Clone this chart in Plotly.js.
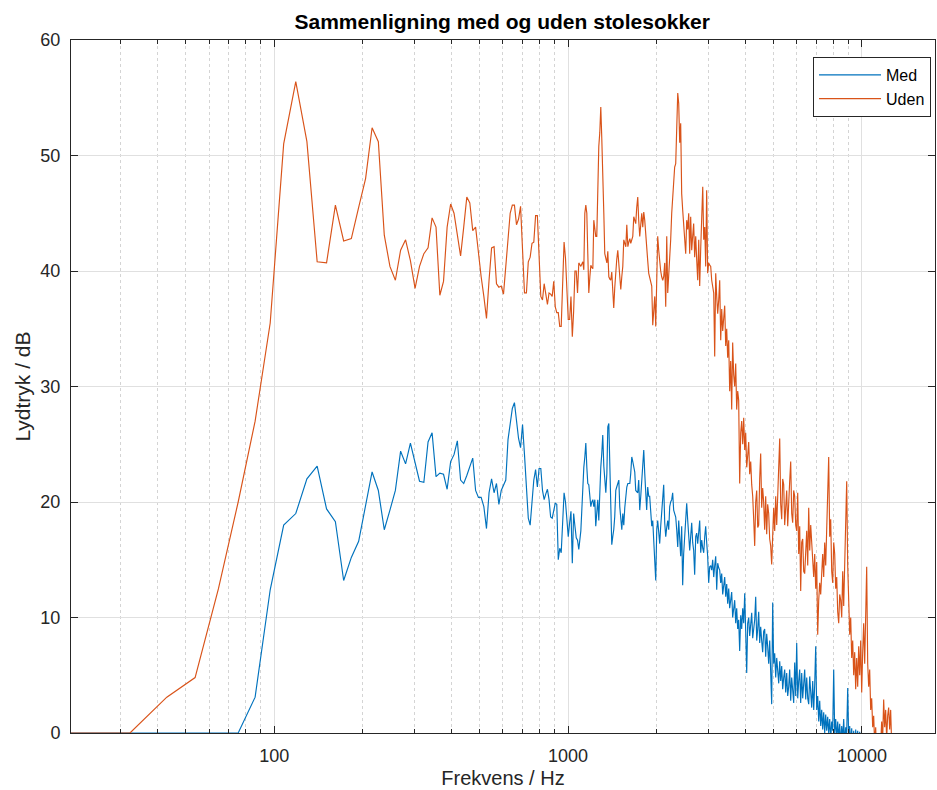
<!DOCTYPE html>
<html>
<head>
<meta charset="utf-8">
<script src="https://cdn.plot.ly/plotly-3.0.1.min.js"></script>
<style>html,body{margin:0;padding:0;background:#fff;}#chart{width:937px;height:790px;}</style>
</head>
<body>
<div id="chart"></div>
<script>
// FFT bins (Hz), low-frequency part
var freqLow = [10.8,21.5,32.3,43.1,53.8,64.6,75.4,86.1,96.9,107.7,
118.4,129.2,140.0,150.7,161.5,172.3,183.0,193.8,204.6,215.3,
226.1,236.9,247.6,258.4,269.2,279.9,290.7,301.5,312.2,323.0,
333.8,344.5,355.3,366.1,376.8,387.6,398.4,409.1,419.9,430.7,
441.4,452.2,463.0,473.7,484.5,495.3,506.0,516.8,527.6,538.3,
549.1,559.9,570.6,581.4,592.2,602.9,613.7,624.5,635.2,646.0,
656.8,667.5,678.3,689.1,699.8,710.6,721.4,732.1,742.9,753.7,
764.4,775.2,786.0,796.7,807.5,818.3,829.0,839.8,850.6,861.3,
872.1,882.9,893.6,904.4,915.2,925.9,936.7,947.5,958.2,969.0,
979.8,990.5,1001.3,1012.1,1022.8,1033.6,1044.4,1055.1,1065.9,1076.7,1087.4];

var medLow = [0,0,0,0,0,0,0,3.1,12.4,18.0,
19.0,22.0,23.1,19.4,18.3,13.2,15.2,16.6,19.8,22.6,
21.0,17.6,19.3,21.0,24.4,23.3,25.1,23.5,21.8,21.7,
25.2,26.0,22.2,22.5,22.4,21.1,23.5,24.1,25.3,21.9,
21.6,22.3,23.1,23.8,21.0,20.4,20.4,19.6,17.7,20.8,
22.0,20.8,21.6,19.8,21.0,21.5,21.9,25.4,26.8,28.1,
28.6,27.1,25.5,24.7,26.7,24.1,21.0,18.6,18.0,19.9,
21.9,22.8,21.3,22.9,22.9,21.0,20.2,20.7,21.1,20.2,
18.7,18.6,19.3,19.9,19.8,15.0,16.0,15.6,18.2,20.8,
20.0,18.4,17.0,18.2,19.2,14.7,19.0,17.9,16.9,16.7,15.9];

var udenLow = [0,0,0,3.1,4.8,12.5,20.0,27.0,35.5,51.0,
56.4,51.2,40.8,40.7,45.7,42.6,42.8,45.5,48.0,52.4,
51.2,43.1,40.4,39.2,41.8,42.7,40.9,38.5,40.4,41.5,
42.0,44.6,43.8,37.9,39.1,43.8,45.8,45.0,43.1,41.3,
43.8,46.4,45.9,43.5,43.8,41.5,39.5,37.8,35.9,39.2,
42.0,42.1,38.9,38.6,38.7,38.0,40.4,43.0,45.0,45.7,
45.7,44.0,44.5,45.6,41.8,38.1,38.1,40.8,41.2,42.4,
42.5,44.8,44.8,41.2,37.8,37.5,38.9,38.0,37.1,38.1,
38.0,37.8,39.1,36.9,36.4,36.4,35.2,35.2,38.4,42.5,
41.1,38.5,35.8,35.8,37.8,34.3,36.5,40.0,40.0,38.1,40.7];

// dense high-frequency part (Hz)
var freqHigh = [1105,1114,1122,1131,1140, 1149,1158,1167,1176,1186,
1195,1204,1214,1223,1233, 1242,1252,1262,1272,1282,
1292,1302,1312,1323,1333, 1344,1355,1365,1376,1387,
1397,1408,1419,1430,1441, 1453,1464,1476,1488,1499,
1511,1523,1535,1547,1559, 1572,1584,1597,1609,1622,
1634,1647,1660,1673,1686, 1699,1712,1726,1739,1753,
1767,1781,1795,1809,1823, 1837,1851,1866,1881,1895,
1911,1926,1941,1956,1972, 1987,2003,2018,2034,2050,
2066,2082,2099,2115,2132, 2149,2166,2183,2200,2217,
2234,2252,2269,2287,2305, 2324,2342,2361,2379,2398,
2416,2435,2454,2473,2493, 2513,2533,2553,2573,2593,
2613,2634,2654,2675,2696, 2718,2739,2761,2783,2804,
2827,2849,2872,2894,2917, 2939,2962,2985,3009,3033,
3057,3081,3105,3130,3154, 3179,3204,3229,3255,3280,
3306,3332,3358,3385,3411, 3438,3465,3492,3520,3547,
3575,3603,3631,3660,3689, 3718,3747,3777,3806,3836,
3867,3897,3928,3959,3990, 4021,4053,4084,4117,4149,
4182,4215,4248,4281,4315, 4349,4383,4418,4452,4487,
4522,4558,4593,4629,4666, 4703,4740,4777,4815,4853,
4891,4929,4968,5007,5047, 5087,5127,5167,5208,5249,
5290,5332,5373,5416,5458, 5501,5544,5588,5632,5676,
5721,5766,5811,5857,5903, 5950,5997,6044,6091,6139,
6187,6236,6285,6334,6384, 6435,6486,6537,6588,6640,
6692,6745,6798,6851,6905, 6959,7014,7069,7125,7181,
7237,7294,7351,7409,7467, 7526,7585,7645,7705,7766,
7827,7889,7951,8013,8076, 8140,8204,8268,8333,8399,
8465,8532,8599,8666,8734, 8803,8872,8942,9012,9083,
9155,9227,9299,9372,9446, 9520,9595,9670,9746,9823,
9900,9978,10056,10135,10215, 10296,10377,10458,10540,10623,
10706,10790,10875,10961,11047, 11134,11221,11309,11398,11488,
11578,11669,11761,11853,11946, 12040,12135,12230,12326,12423,
12521,12619,12718,12818,12919, 13021];

var medHigh = [17.5,19.3,22.2,23.0,23.9, 25.1,23.0,21.6,21.5,20.5,
19.6,20.0,20.2,19.6,20.2, 17.9,19.5,20.2,18.4,21.3,
23.0,24.2,25.8,23.1,22.0, 20.8,22.5,26.5,26.8,22.8,
18.4,16.3,17.0,17.6,18.7, 21.0,21.3,21.6,21.9,19.6,
18.5,17.6,19.0,18.0,19.5, 20.5,21.3,21.6,21.6,21.6,
22.5,23.9,23.5,23.1,22.6, 21.0,20.9,20.8,21.9,19.3,
20.5,21.9,22.8,24.5,22.5, 21.3,19.3,21.3,20.5,20.5,
19.3,17.9,18.4,17.0,15.6, 13.2,17.6,18.4,17.4,16.4,
17.9,19.3,20.5,21.5,18.2, 17.0,17.8,18.4,17.6,19.6,
20.0,20.2,20.8,19.3,19.0, 18.7,17.6,16.1,18.4,17.0,
15.3,17.9,12.8,15.5,17.0, 18.4,19.9,18.4,17.0,15.8,
17.0,18.2,16.5,15.8,13.7, 17.0,17.3,16.4,17.4,18.4,
15.6,16.7,16.0,15.6,17.0, 17.9,16.5,15.3,13.0,14.4,
14.5,14.1,15.0,13.5,14.5, 15.3,12.4,14.7,14.3,14.1,
13.0,13.8,12.0,12.6,13.5, 11.8,12.9,11.2,12.5,10.8,
11.5,12.2,10.0,10.9,11.5, 9.5,10.8,9.0,9.8,7.1,
10.2,9.0,10.8,9.5,12.1, 8.8,5.2,9.5,10.0,8.4,
9.2,10.4,8.2,8.8,9.8, 11.8,8.0,9.0,10.5,7.8,
9.2,8.0,7.0,8.8,9.0, 6.6,8.6,7.5,6.0,8.0,
5.5,2.5,11.3,6.0,6.9, 4.8,6.5,5.5,4.3,6.2,
4.5,5.8,3.8,4.8,5.5, 3.5,5.2,3.2,4.0,5.5,
2.8,4.8,3.8,2.6,6.1, 3.2,7.8,3.0,4.5,5.5,
2.6,5.2,3.0,4.2,5.5, 2.9,4.8,3.0,2.5,4.9,
3.5,2.2,4.5,2.0,4.2, 7.5,2.0,3.2,1.0,2.8,
0.6,2.0,0.3,1.8,0.0, 1.6,0.2,1.4,0.0,1.2,
-0.5,1.0,0.2,5.5,0.0, 1.2,-0.5,1.0,-0.5,0.8,
-1.0,0.6,-0.5,1.2,-1.0, 0.5,0.0,3.9,-0.5,0.6,
-1.0,0.4,-1.5,0.2,-2.0, 0.3,-1.0,0.2,-1.5,0.1,
-2.0,-3.0,-3.0,-3.0,-3.0, -3.0,-3.0,-3.0,-3.0,-3.0,
-3.0,-3.0,-3.0,-3.0,-3.0, -3.0,-3.0,-3.0,-3.0,-3.0,
-3.0,-3.0,-3.0,-3.0,-3.0, -3.0,-3.0,-3.0,-3.0,-3.0,
-3.0,-3.0,-3.0,-3.0,-3.0, -3.0];

var udenHigh = [40.4,40.6,40.8,40.1,45.0, 45.7,45.0,41.5,38.1,39.5,
40.5,40.3,40.2,44.4,43.5, 43.0,43.0,47.5,50.8,52.0,
54.2,51.5,49.0,45.0,41.5, 41.0,40.7,41.7,39.5,39.3,
39.2,39.9,38.5,36.8,38.5, 40.4,41.0,41.8,40.8,40.1,
38.4,39.5,40.4,42.7,42.4, 42.1,44.0,42.1,42.5,42.8,
42.4,42.7,43.0,44.7,44.4, 44.1,45.5,46.4,44.4,43.0,
44.0,45.0,43.8,45.1,44.4, 43.0,42.4,40.9,39.8,39.5,
39.0,38.7,35.3,36.5,37.8, 35.2,39.0,43.0,41.8,40.4,
40.0,39.5,39.2,39.5,40.7, 36.9,43.0,38.1,39.5,40.4,
42.7,45.0,46.7,47.9,49.0, 49.3,52.4,55.4,54.5,51.1,
52.8,46.7,45.3,43.8,42.5, 41.5,44.4,43.6,45.0,41.5,
44.7,41.8,43.0,44.1,41.2, 43.0,41.0,39.2,42.7,38.7,
42.0,45.9,47.3,42.7,43.8, 40.4,47.0,39.8,40.7,40.5,
40.4,39.2,38.5,38.1,32.6, 39.8,37.8,36.3,37.5,39.2,
34.0,36.7,34.8,35.8,37.0, 33.5,35.0,32.5,34.0,29.6,
32.2,28.0,33.8,31.0,30.0, 32.0,28.0,29.6,28.8,21.6,
26.0,27.0,25.0,27.3,24.5, 26.0,23.0,24.0,25.2,22.4,
23.5,21.5,20.5,18.5,16.2, 20.0,21.0,17.8,18.0,22.0,
24.2,19.5,21.2,20.0,17.6, 20.5,17.2,19.8,19.0,16.8,
16.2,14.6,18.5,19.5,17.5, 20.5,18.0,21.0,22.4,25.5,
19.8,18.5,22.0,21.5,18.0, 19.5,21.0,17.9,20.8,21.8,
23.5,19.0,18.2,21.0,20.5, 18.0,17.5,20.8,15.5,17.9,
12.3,16.5,16.8,14.0,13.8, 16.0,17.5,14.5,19.5,15.8,
18.0,16.5,14.5,13.5,15.5, 12.5,14.8,8.5,11.5,13.0,
12.0,14.0,15.5,13.5,16.5, 14.5,18.0,20.5,23.9,17.0,
18.5,14.0,13.0,16.5,15.5, 12.5,13.5,10.5,9.5,12.0,
11.5,10.0,14.0,11.0,15.0, 18.5,21.8,14.5,11.0,8.5,
10.0,6.5,8.0,5.0,7.0, 3.8,6.5,4.0,7.5,5.0,
8.0,3.5,7.0,9.5,6.0, 11.5,14.4,6.0,4.0,5.5,
2.0,3.0,0.5,1.5,-1.0, 0.5,-2.0,-1.0,-3.0,-2.0,
-1.0,1.0,-0.5,2.9,0.5, 2.0,-0.5,1.5,2.2,0.3,
2.0,-1.0,-3.0,-4.0,-4.0, -4.0];

var majorTicks = [100, 1000, 10000];
var minorTicks = [30,40,50,60,70,80,90,200,300,400,500,600,700,800,900,
2000,3000,4000,5000,6000,7000,8000,9000];
var seriesNames = ['Med', 'Uden'];
var seriesColors = ['#0072BD', '#D95319'];

var freq = freqLow.concat(freqHigh);
var med = medLow.concat(medHigh);
var uden = udenLow.concat(udenHigh);

var font = 'Liberation Sans, Arial, Helvetica, sans-serif';
var axisCol = '#262626';

var traces = [
  {x: freq, y: med, type: 'scatter', mode: 'lines', name: seriesNames[0],
   line: {color: seriesColors[0], width: 1.15}},
  {x: freq, y: uden, type: 'scatter', mode: 'lines', name: seriesNames[1],
   line: {color: seriesColors[1], width: 1.15}}
];

var layout = {
  width: 937, height: 790,
  margin: {l: 71, r: 2, t: 40, b: 57, pad: 0},
  paper_bgcolor: '#ffffff', plot_bgcolor: '#ffffff',
  font: {family: font, color: axisCol, size: 18},
  title: {text: '<b>Sammenligning med og uden stolesokker</b>',
          font: {family: font, size: 21, color: '#000000'},
          x: 0.536, xanchor: 'center', y: 0.972, yanchor: 'middle'},
  showlegend: true,
  legend: {x: 0.9954, xanchor: 'right', y: 0.9755, yanchor: 'top',
           bgcolor: '#ffffff', bordercolor: axisCol, borderwidth: 1,
           font: {family: font, size: 16, color: '#000000'},
           itemwidth: 62, tracegroupgap: 0},
  xaxis: {
    type: 'log', range: [1.3085, 4.2485],
    tickmode: 'array', tickvals: majorTicks, ticktext: majorTicks.map(String),
    showgrid: true, gridcolor: '#e0e0e0', gridwidth: 1,
    ticks: 'inside', ticklen: 7, tickcolor: axisCol, tickwidth: 1,
    minor: {tickmode: 'array', tickvals: minorTicks, ticks: 'inside', ticklen: 4,
            tickcolor: axisCol, showgrid: true, gridcolor: '#d4d4d4', griddash: 'dot', gridwidth: 1},
    showline: true, linecolor: axisCol, linewidth: 1, mirror: 'ticks',
    zeroline: false, ticklabelstandoff: 6,
    tickfont: {family: font, size: 18, color: axisCol},
    title: {text: 'Frekvens / Hz', font: {family: font, size: 20, color: axisCol}, standoff: 6}
  },
  yaxis: {
    range: [0, 60], tickvals: [0,10,20,30,40,50,60],
    showgrid: true, gridcolor: '#e0e0e0', gridwidth: 1,
    ticks: 'inside', ticklen: 7, tickcolor: axisCol, tickwidth: 1,
    showline: true, linecolor: axisCol, linewidth: 1, mirror: 'ticks',
    zeroline: false, ticklabelstandoff: 6,
    tickfont: {family: font, size: 18, color: axisCol},
    title: {text: 'Lydtryk / dB', font: {family: font, size: 21, color: axisCol}, standoff: 4}
  }
};

Plotly.newPlot('chart', traces, layout, {displayModeBar: false, staticPlot: true});
</script>
</body>
</html>
